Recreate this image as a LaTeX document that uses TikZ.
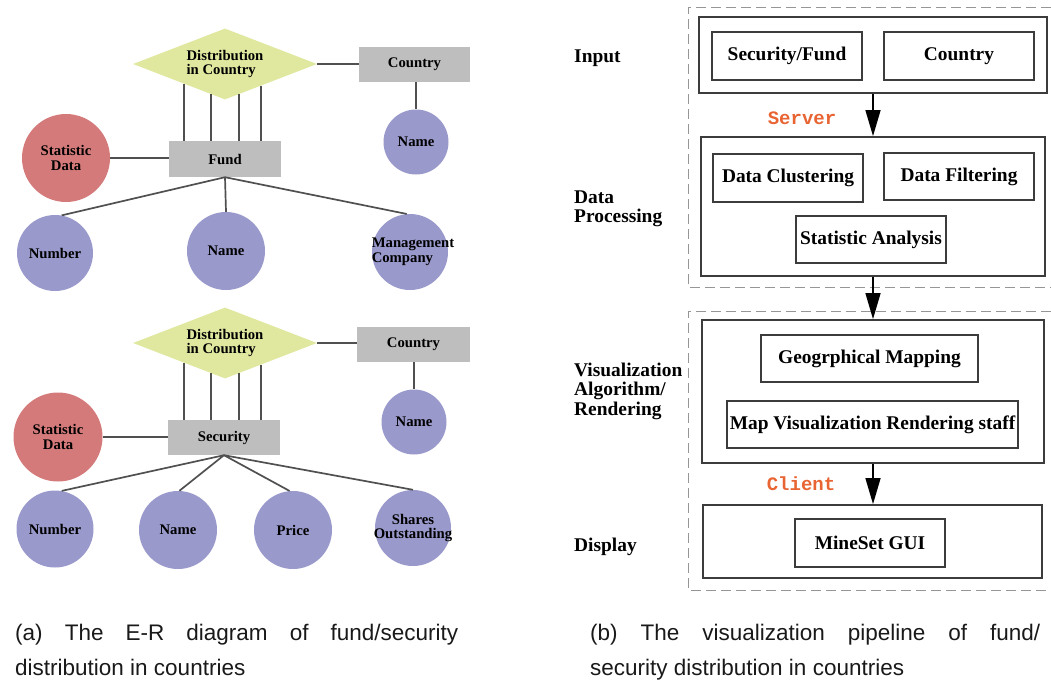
\documentclass[tikz,border=0pt]{standalone}
\usepackage{fontspec}
\setmainfont{Liberation Serif}
\newfontfamily\capsans{Liberation Sans}
\newfontfamily\tagmono{Liberation Mono}
\usetikzlibrary{shapes.geometric,calc,arrows.meta}
\definecolor{attrblue}{RGB}{153,153,204}
\definecolor{statred}{RGB}{212,122,122}
\definecolor{relyellow}{RGB}{224,232,160}
\definecolor{entgray}{RGB}{190,190,190}
\definecolor{linegray}{RGB}{80,80,80}
\definecolor{boxgray}{RGB}{60,60,60}
\definecolor{dashgray}{RGB}{150,150,150}
\definecolor{tagorange}{RGB}{232,100,50}
\definecolor{captext}{RGB}{25,25,25}

\begin{document}
\begin{tikzpicture}[x=1pt,y=-1pt,
	erfont/.style={font=\bfseries\fontsize{14.7}{14.5}\selectfont},
	erlabel/.style={erfont,align=left,inner sep=0pt},
	entity/.style={erfont,fill=entgray,minimum width=112pt,minimum height=36pt,inner sep=0pt},
	relation/.style={erfont,diamond,fill=relyellow,shape aspect=2.6,minimum width=184pt,minimum height=71pt,inner sep=0pt,align=left},
	attr/.style={erfont,circle,fill=attrblue,minimum size=77pt,inner sep=0pt,align=center},
	stat/.style={erfont,circle,fill=statred,minimum size=88pt,inner sep=0pt,align=center},
	erline/.style={draw=linegray,line width=1.7pt},
	pipefont/.style={font=\bfseries\fontsize{19.4}{19.5}\selectfont},
	stagebox/.style={draw=boxgray,line width=1.8pt,inner sep=0pt},
	inbox/.style={pipefont,draw=boxgray,line width=1.6pt,minimum width=150pt,minimum height=48pt,inner sep=0pt},
	layerlabel/.style={pipefont,anchor=west,align=left,inner sep=0pt},
	tag/.style={font=\tagmono\bfseries\fontsize{19}{19}\selectfont,text=tagorange,inner sep=0pt},
	dashbox/.style={draw=dashgray,line width=1pt,dash pattern=on 10pt off 5pt},
	flow/.style={draw=black,line width=1.4pt,-{Triangle[length=26pt,width=15pt]}},
	caption/.style={font=\capsans\fontsize{22.5}{35}\selectfont,text=captext,align=left,inner sep=0pt,anchor=north west}
]
\useasboundingbox (0,0) rectangle (1051,680);

% E-R diagram of funds
\node[relation] (rel1) at (225,64) {Distribution\\in Country};
\node[entity,minimum width=111pt,minimum height=35pt] (ctry1) at (414.5,64.5) {Country};
\node[attr,minimum size=65pt] (cname1) at (416,142) {Name};
\node[entity] (fund) at (225,159) {Fund};
\node[stat] (stat1) at (66,158) {Statistic\\Data};
\node[attr,minimum size=76pt] (num1) at (55,253) {Number};
\node[attr,minimum size=78pt] (name1) at (226,251) {Name};
\node[attr,minimum size=76pt,label={[erlabel,xshift=3pt]center:Management\\Company}] (mgmt) at (410,252) {};
\draw[erline] (rel1.east) -- (rel1.east -| ctry1.west);
\draw[erline] (cname1 |- ctry1.south) -- (cname1.north);
\draw[erline] (stat1.east) -- (stat1.east -| fund.west);
\foreach \f/\side [count=\i] in {0.446/west,0.152/west,0.152/east,0.39/east}{
	\coordinate (fa\i) at ($(rel1.south)!\f!(rel1.\side)$);
	\draw[erline] (fa\i) -- (fa\i |- fund.north);
}
\foreach \a/\ang in {num1/80,name1/90,mgmt/95}{
	\draw[erline] (fund.south) -- (\a.\ang);
}

% E-R diagram of securities
\node[relation] (rel2) at (225,343) {Distribution\\in Country};
\node[entity,minimum width=113pt,minimum height=35pt] (ctry2) at (413.5,344.5) {Country};
\node[attr,minimum size=65pt] (cname2) at (414,422) {Name};
\node[entity,minimum height=35pt] (sec) at (224,437.5) {Security};
\node[stat,minimum size=89pt] (stat2) at (58,437) {Statistic\\Data};
\node[attr] (num2) at (55,529) {Number};
\node[attr,minimum size=78pt] (name2) at (178,530) {Name};
\node[attr,minimum size=78pt] (price) at (293,530) {Price};
\node[attr,minimum size=76pt,label={[erlabel,align=center]center:Shares\\Outstanding}] (shares) at (413,528) {};
\draw[erline] (rel2.east) -- (rel2.east -| ctry2.west);
\draw[erline] (cname2 |- ctry2.south) -- (cname2.north);
\draw[erline] (stat2.east) -- (stat2.east -| sec.west);
\foreach \f/\side [count=\i] in {0.446/west,0.152/west,0.152/east,0.39/east}{
	\coordinate (sa\i) at ($(rel2.south)!\f!(rel2.\side)$);
	\draw[erline] (sa\i) -- (sa\i |- sec.north);
}
\foreach \a/\ang in {num2/80,name2/88,price/95,shares/90}{
	\draw[erline] (sec.south) -- (\a.\ang);
}

% visualization pipeline
\draw[dashbox] (1051,7) -| (688,287) -- (1051,287);
\draw[dashbox] (1051,311) -| (688,590) -- (1051,590);

\node[stagebox,minimum width=348pt,minimum height=76pt] (input) at (873,55) {};
\node[inbox] (secfund) at (787,56) {Security/Fund};
\node[inbox] (inctry) at (959,56) {Country};

\node[stagebox,minimum width=344pt,minimum height=139pt] (proc) at (873,206.5) {};
\node[inbox] (clust) at (788,178) {Data Clustering};
\node[inbox,minimum height=47pt] (filt) at (959,176.5) {Data Filtering};
\node[inbox,minimum height=47pt] (stats) at (871,239.5) {Statistic Analysis};

\node[stagebox,minimum width=342pt,minimum height=143pt] (vis) at (873,391.5) {};
\node[inbox,minimum width=217pt,minimum height=47pt] (geo) at (869.5,358.5) {Geogrphical Mapping};
\node[inbox,minimum width=291pt,minimum height=47pt] (mapvis) at (872.5,424.5) {Map Visualization Rendering staff};

\node[stagebox,minimum width=339pt,minimum height=73pt] (disp) at (872.5,541.5) {};
\node[inbox] (gui) at (870,543) {MineSet GUI};

\draw[flow] (input.south) -- (proc.north);
\draw[flow] (proc.south) -- (vis.north);
\draw[flow] (vis.south) -- (vis.south |- disp.north);

\node[tag] (server) at (802,118) {Server};
\node[tag] (client) at (801,484) {Client};

\node[layerlabel] (linput) at (574,58) {Input};
\node[layerlabel] (lproc) at (574,209) {Data\\Processing};
\node[layerlabel] (lvis) at (574,391) {Visualization\\Algorithm/\\Rendering};
\node[layerlabel] (ldisp) at (574,547) {Display};

% captions
\node[caption] (capa) at (15,624) {\makebox[443pt][s]{(a) The E-R diagram of fund/security}\\distribution in countries};
\node[caption] (capb) at (590,624) {\makebox[450pt][s]{(b) The visualization pipeline of fund/}\\security distribution in countries};
\end{tikzpicture}
\end{document}
